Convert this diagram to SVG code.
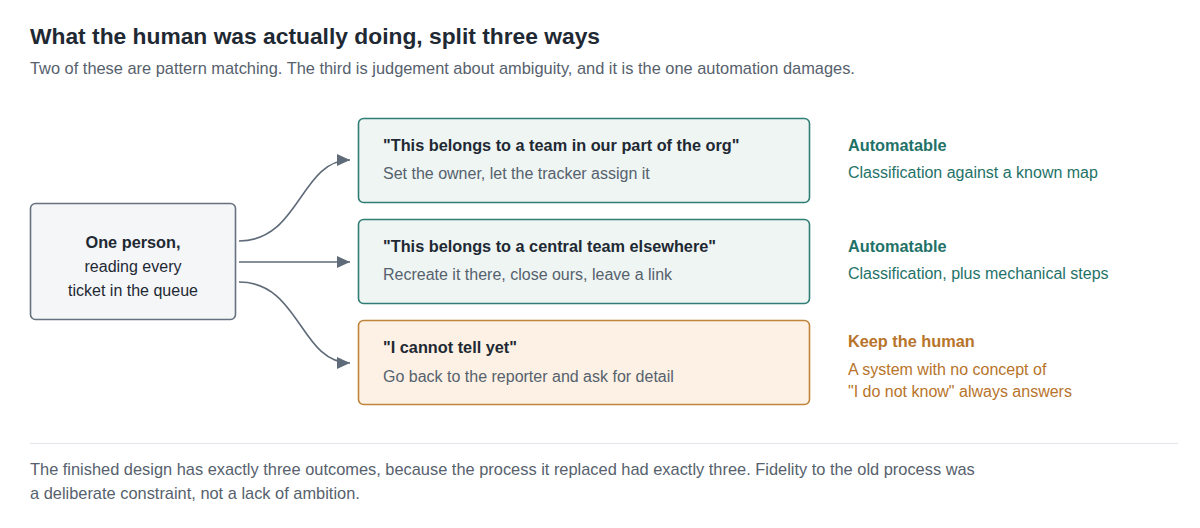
<svg xmlns="http://www.w3.org/2000/svg" width="1200" height="528" viewBox="0 0 1200 528">
<style>
text{font-family:"Liberation Sans",Arial,sans-serif}
.t{font-size:22.8px;font-weight:bold;fill:#1f2933}
.s{font-size:16.4px;fill:#56616d}
.h{font-size:16.3px;font-weight:bold;fill:#1f2933}
.b{font-size:16px;fill:#56616d}
.g{fill:#eef5f3;stroke:#2f7d74;stroke-width:1.6}
.o{fill:#fcf1e4;stroke:#c0843a;stroke-width:1.6}
.gt{fill:#1f7268}
.ot{fill:#b7742a}
.c{fill:none;stroke:#5f6b78;stroke-width:1.6}
</style>
<defs><marker id="a" markerWidth="14" markerHeight="14" refX="13" refY="6" orient="auto" markerUnits="userSpaceOnUse"><path d="M0,0L13,6L0,12z" fill="#5f6b78"/></marker></defs>
<rect width="1200" height="528" fill="#fff"/>
<text x="30" y="44" class="t">What the human was actually doing, split three ways</text>
<text x="30" y="74" class="s">Two of these are pattern matching. The third is judgement about ambiguity, and it is the one automation damages.</text>
<g id="connectors">
<path class="c" d="M239,241C300,241 300,160 350,160" marker-end="url(#a)"/>
<path class="c" d="M239,262L350,262" marker-end="url(#a)"/>
<path class="c" d="M239,282C300,282 300,363 350,363" marker-end="url(#a)"/>
</g>
<g id="source">
<rect x="30.5" y="203.5" width="205" height="116" rx="5" fill="#f4f6f8" stroke="#66727f" stroke-width="1.6"/>
<text x="133" y="248" text-anchor="middle" class="h">One person,</text>
<text x="133" y="272" text-anchor="middle" class="b" style="fill:#1f2933">reading every</text>
<text x="133" y="296" text-anchor="middle" class="b" style="fill:#1f2933">ticket in the queue</text>
</g>
<g id="n1">
<rect x="358.5" y="118.5" width="451" height="84" rx="5" class="g"/>
<text x="383" y="151" class="h">"This belongs to a team in our part of the org"</text>
<text x="383" y="179" class="b">Set the owner, let the tracker assign it</text>
<text x="848" y="151" class="h gt">Automatable</text>
<text x="848" y="178" class="b gt">Classification against a known map</text>
</g>
<g id="n2">
<rect x="358.5" y="219.5" width="451" height="84" rx="5" class="g"/>
<text x="383" y="252" class="h">"This belongs to a central team elsewhere"</text>
<text x="383" y="280" class="b">Recreate it there, close ours, leave a link</text>
<text x="848" y="252" class="h gt">Automatable</text>
<text x="848" y="279" class="b gt">Classification, plus mechanical steps</text>
</g>
<g id="n3">
<rect x="358.5" y="320.5" width="451" height="84" rx="5" class="o"/>
<text x="383" y="353" class="h">"I cannot tell yet"</text>
<text x="383" y="382" class="b">Go back to the reporter and ask for detail</text>
<text x="848" y="347" class="h ot">Keep the human</text>
<text x="848" y="375" class="b ot">A system with no concept of</text>
<text x="848" y="397" class="b ot">"I do not know" always answers</text>
</g>
<line x1="30" y1="443.5" x2="1178" y2="443.5" stroke="#e3e6ea" stroke-width="1"/>
<text x="30" y="475" class="s">The finished design has exactly three outcomes, because the process it replaced had exactly three. Fidelity to the old process was</text>
<text x="30" y="499" class="s">a deliberate constraint, not a lack of ambition.</text>
</svg>
